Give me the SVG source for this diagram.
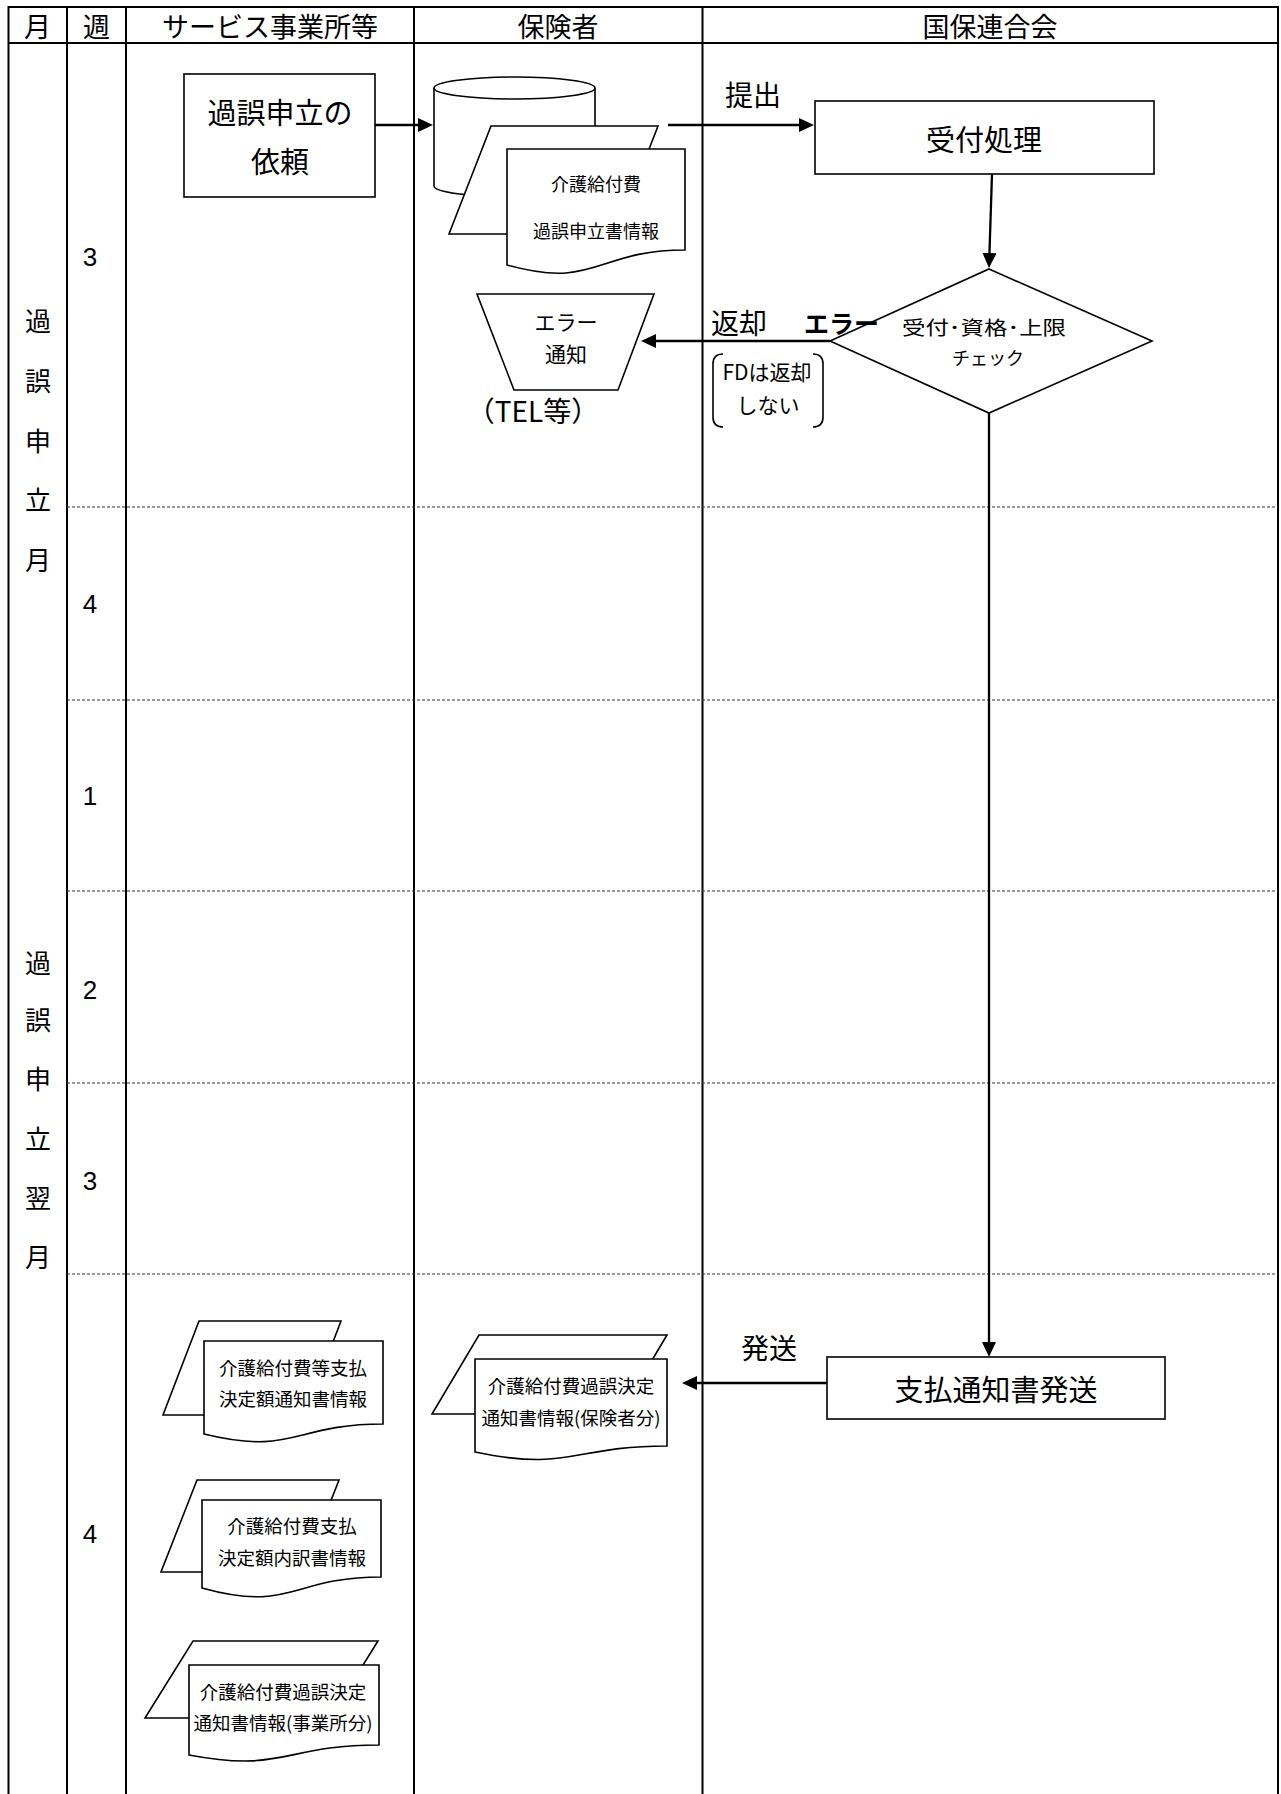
<svg xmlns="http://www.w3.org/2000/svg" width="1281" height="1794" viewBox="0 0 1281 1794">
<defs>
<style>
text { font-family: "Noto Sans CJK JP", "Noto Sans", sans-serif; fill: #000; dominant-baseline: central; text-anchor: middle; }
.grid { stroke: #000; stroke-width: 2; fill: none; }
.dash { stroke: #333; stroke-width: 1.2; stroke-dasharray: 3 2; fill: none; }
.shape { fill: #fff; stroke: #000; stroke-width: 1.6; }
.conn { stroke: #000; stroke-width: 2.3; fill: none; }
.hd { font-size: 27px; }
.big { font-size: 29px; }
.lab { font-size: 28px; }
.mid { font-size: 21px; }
.sm { font-size: 18px; }
.doc { font-size: 18.5px; }
.wk { font-size: 26px; font-family: "Liberation Sans", Arial, sans-serif; }
.mo { font-size: 26px; }
</style>
<marker id="arr" viewBox="0 0 15 14" refX="5" refY="7" markerWidth="15" markerHeight="14" markerUnits="userSpaceOnUse" orient="auto">
<path d="M0,0 L15,7 L0,14 Z" fill="#000"/>
</marker>
</defs>
<rect x="0" y="0" width="1281" height="1794" fill="#fff"/>

<g id="table">
<rect class="grid" x="8.5" y="7" width="1269.5" height="1800"/>
<path class="grid" d="M8.5 43 H1278 M67 7 V1794 M126 7 V1794 M414 7 V1794 M702.5 7 V1794"/>
<path class="dash" d="M67 507 H1278 M67 700 H1278 M67 891 H1278 M67 1083 H1278 M67 1274 H1278"/>
<text class="hd" x="37.5" y="25">月</text>
<text class="hd" x="96.5" y="25">週</text>
<text class="hd" x="270" y="25">サービス事業所等</text>
<text class="hd" x="558" y="25">保険者</text>
<text class="hd" x="990" y="25">国保連合会</text>
<text class="wk" x="90" y="257">3</text>
<text class="wk" x="90" y="604">4</text>
<text class="wk" x="90" y="796">1</text>
<text class="wk" x="90" y="990">2</text>
<text class="wk" x="90" y="1181">3</text>
<text class="wk" x="90" y="1534">4</text>
<text class="mo" x="38" y="319">過</text>
<text class="mo" x="38" y="379">誤</text>
<text class="mo" x="38" y="439">申</text>
<text class="mo" x="38" y="498">立</text>
<text class="mo" x="38" y="558">月</text>
<text class="mo" x="38" y="961">過</text>
<text class="mo" x="38" y="1018">誤</text>
<text class="mo" x="38" y="1077">申</text>
<text class="mo" x="38" y="1137">立</text>
<text class="mo" x="38" y="1196">翌</text>
<text class="mo" x="38" y="1255">月</text>
</g>

<g id="connectors">
<line class="conn" x1="375" y1="125" x2="423" y2="125" marker-end="url(#arr)"/>
<line class="conn" x1="668" y1="125" x2="804" y2="125" marker-end="url(#arr)"/>
<line class="conn" x1="992" y1="174" x2="989.3" y2="258" marker-end="url(#arr)"/>
<line class="conn" x1="830" y1="341" x2="651" y2="341" marker-end="url(#arr)"/>
<line class="conn" x1="989" y1="413" x2="989" y2="1347" marker-end="url(#arr)"/>
<line class="conn" x1="827" y1="1383" x2="692" y2="1383" marker-end="url(#arr)"/>
</g>

<g id="node-request">
<rect class="shape" x="184" y="74" width="191" height="123"/>
<text class="big" x="280" y="111">過誤申立の</text>
<text class="big" x="280" y="160">依頼</text>
</g>

<g id="node-claim-data">
<path class="shape" d="M434 88 V186 A80.5 11 0 0 0 595 186 V88"/>
<ellipse class="shape" cx="514.5" cy="88" rx="80.5" ry="11"/>
<path class="shape" d="M491 126 L658 126 L616 234 L449 234 Z"/>
<path class="shape" d="M507 149 H685 V250 C596 250 596 290 507 265 Z"/>
<text class="sm" x="596" y="183">介護給付費</text>
<text class="sm" x="596" y="230">過誤申立書情報</text>
</g>

<g id="node-reception">
<rect class="shape" x="815" y="101" width="339" height="73"/>
<text class="big" x="984" y="138">受付処理</text>
</g>

<g id="node-check">
<path class="shape" d="M989 269 L1152 341 L989 413 L830 341 Z"/>
<text x="984" y="326" style="font-size:19px" textLength="164" lengthAdjust="spacingAndGlyphs">受付･資格･上限</text>
<text class="sm" x="988" y="357">チェック</text>
</g>

<g id="node-error-notice">
<path class="shape" d="M477 294 L654 294 L618 390 L514 390 Z"/>
<text class="mid" x="566" y="321">エラー</text>
<text class="mid" x="566" y="353">通知</text>
<text class="lab" x="533" y="410">（TEL等）</text>
</g>

<g id="note-fd">
<path class="conn" style="stroke-width:1.6" d="M723 354 Q713 354 713 364 L713 417 Q713 427 723 427 M813 354 Q823 354 823 364 L823 417 Q823 427 813 427"/>
<text style="font-size:21px" x="767" y="371">FDは返却</text>
<text style="font-size:21px" x="768" y="404">しない</text>
</g>

<g id="node-send">
<rect class="shape" x="827" y="1357" width="338" height="62"/>
<text class="big" x="996" y="1388">支払通知書発送</text>
</g>

<g id="node-insurer-decision">
<path class="shape" d="M479 1335 L667 1335 L620 1414 L432 1414 Z"/>
<path class="shape" d="M475 1359 H667 V1446 C571 1446 571 1472 475 1452 Z"/>
<text class="doc" x="571" y="1385">介護給付費過誤決定</text>
<text class="doc" x="571" y="1417">通知書情報(保険者分)</text>
</g>

<g id="node-payment-notice">
<path class="shape" d="M199 1321 L341 1321 L305 1415 L163 1415 Z"/>
<path class="shape" d="M204 1341 H383 V1424 C293.5 1424 293.5 1456 204 1434 Z"/>
<text class="doc" x="293" y="1367">介護給付費等支払</text>
<text class="doc" x="293" y="1398">決定額通知書情報</text>
</g>

<g id="node-payment-detail">
<path class="shape" d="M197 1480 L339 1480 L303 1572 L161 1572 Z"/>
<path class="shape" d="M202 1500 H381 V1577 C291.5 1577 291.5 1613 202 1588 Z"/>
<text class="doc" x="292" y="1525">介護給付費支払</text>
<text class="doc" x="292" y="1557">決定額内訳書情報</text>
</g>

<g id="node-office-decision">
<path class="shape" d="M193 1641 L378 1641 L330 1718 L145 1718 Z"/>
<path class="shape" d="M189 1665 H379 V1745 C284 1745 284 1773 189 1755 Z"/>
<text class="doc" x="283" y="1691">介護給付費過誤決定</text>
<text class="doc" x="283" y="1722">通知書情報(事業所分)</text>
</g>

<g id="connector-labels">
<text class="lab" x="753" y="94">提出</text>
<text class="lab" x="739" y="322">返却</text>
<text x="804" y="322" style="font-size:25px;text-anchor:start;font-weight:bold">エラー</text>
<text class="lab" x="769" y="1347">発送</text>
</g>
</svg>
